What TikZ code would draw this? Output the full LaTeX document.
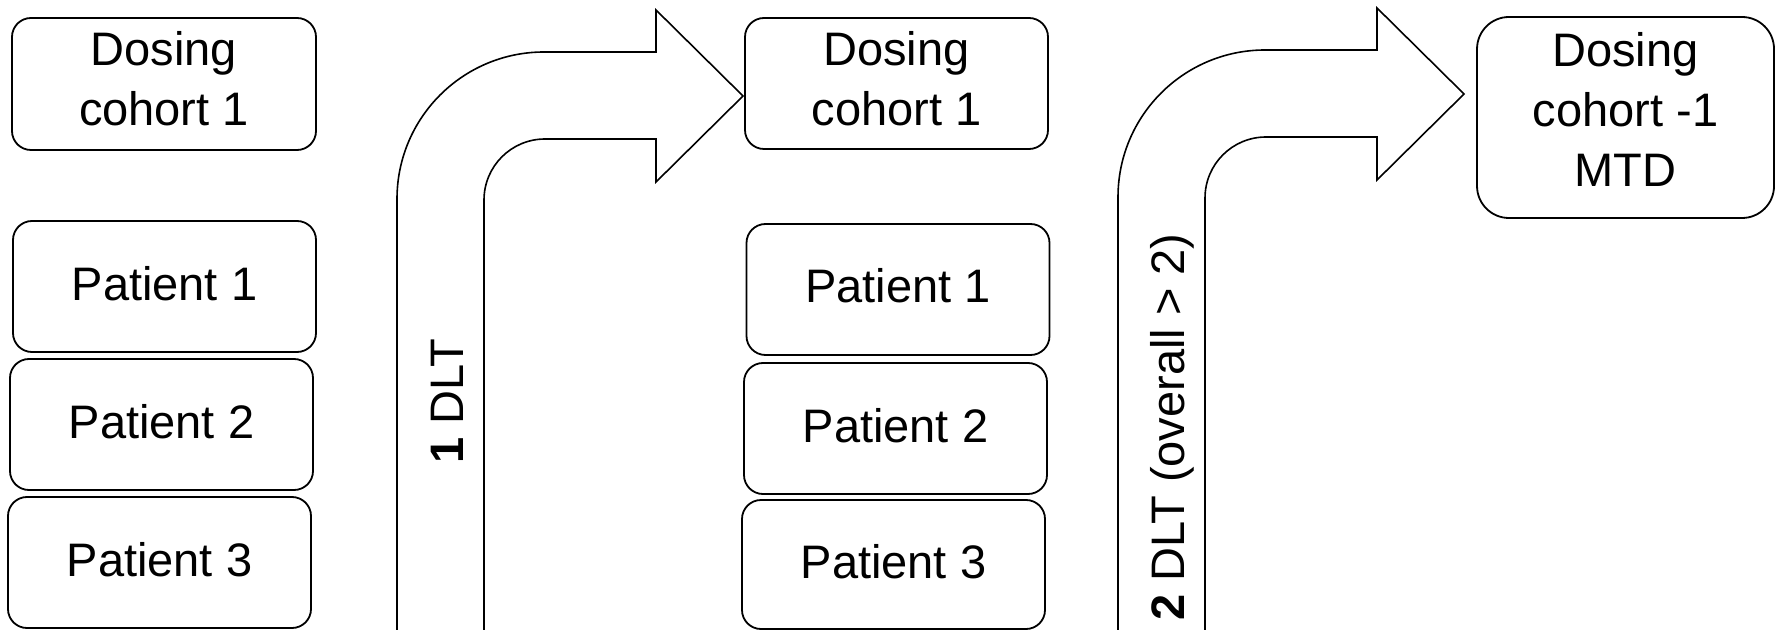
\documentclass[tikz,border=0pt]{standalone}
\usepackage{fontspec}
\setmainfont{Liberation Sans}

% multi-line box text whose reference point is the first baseline
\newcommand{\boxlines}[1]{\parbox[t]{140pt}{\centering #1}}

\tikzset{
  lbl/.style={font=\fontsize{23.5pt}{30pt}\selectfont},
  cohortbox/.style={lbl, draw, line width=0.9pt, rounded corners=9.5pt,
    inner sep=0pt, text height=0pt},
  patientbox/.style={lbl, draw, line width=0.9pt, rounded corners=9.5pt,
    inner sep=0pt, minimum width=151.5pt, minimum height=65.5pt,
    text height=13.5pt, text depth=0pt},
  arrowlabel/.style={lbl, rotate=90, anchor=base, inner sep=0pt},
  % bent block arrow: shaft rising from the bottom edge, turning right
  bentarrow/.pic={
    \draw[line width=0.8pt, line join=miter]
      (397,640) -- (397,199) arc[start angle=180, end angle=90, radius=73.5pt]
      -- (656,52) -- (656,10) -- (743,96) coordinate (-tip) -- (656,182)
      -- (656,139) -- (545,139) arc[start angle=90, end angle=180, radius=30.5pt]
      -- (484,640) -- cycle;
  }
}

\begin{document}
\begin{tikzpicture}[x=0.5pt, y=-0.5pt]
\useasboundingbox (0,0) rectangle (1775,630);
\clip (0,0) rectangle (1775,630);

% first cohort
\node[cohortbox, minimum width=152pt, minimum height=66pt, text depth=18pt]
  (ldose) at (164,84) {\boxlines{Dosing\\cohort 1}};
\node[patientbox] (lp1) at (164.5,286.5) {Patient 1};
\node[patientbox] (lp2) at (161.5,424.5) {Patient 2};
\node[patientbox, minimum height=65.5pt] (lp3) at (159.5,562.5) {Patient 3};

% first escalation arrow
\pic (a1) at (0,0) {bentarrow};
\node[arrowlabel] (a1lbl) at (463,401) {\textbf{1} DLT};

% second cohort at the same dose
\node[cohortbox, minimum width=151.5pt, minimum height=65.5pt, text depth=17.5pt]
  (mdose) at (896.5,83.5) {\boxlines{Dosing\\cohort 1}};
\node[patientbox] (mp1) at (898,289.5) {Patient 1};
\node[patientbox] (mp2) at (895.5,428.5) {Patient 2};
\node[patientbox, minimum height=64.5pt] (mp3) at (893.5,564.5) {Patient 3};

% second arrow
\pic (a2) at (721,-2) {bentarrow};
\node[arrowlabel] (a2lbl) at (1184,427) {\textbf{2} DLT (overall > 2)};

% de-escalated cohort
\node[cohortbox, rounded corners=16pt, minimum width=148.5pt, minimum height=100.5pt,
  text depth=50.5pt]
  (mtd) at (1625.5,117.5) {\boxlines{Dosing\\cohort -1\\MTD}};
\end{tikzpicture}
\end{document}
